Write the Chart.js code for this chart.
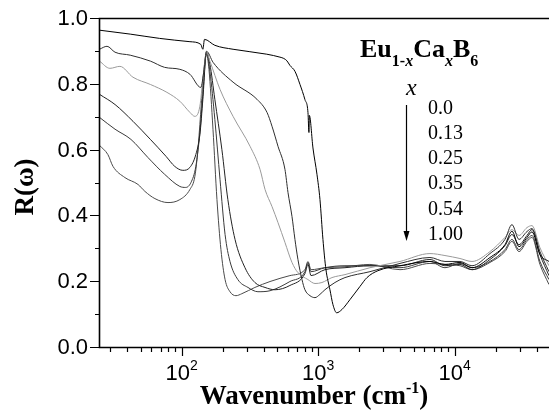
<!DOCTYPE html>
<html>
<head>
<meta charset="UTF-8">
<title>Eu1-xCaxB6 reflectivity</title>
<script src="https://cdn.jsdelivr.net/npm/chart.js"></script>
<style>
  html, body { margin: 0; padding: 0; background: #fff; }
</style>
</head>
<body>
<canvas id="chart" width="549" height="411"></canvas>
<script>
// Ca content x in Eu(1-x)Ca(x)B6, top to bottom in the legend
const compositions = ["0.0", "0.13", "0.25", "0.35", "0.54", "1.00"];
const lineColors = ["#000000", "#2e2e2e", "#9a9a9a", "#222222", "#3a3a3a", "#4a4a4a"];

// reflectivity spectra, [wavenumber (cm-1), R]
const r000 = [[25,0.963],[42,0.951],[69,0.938],[115,0.928],[138,0.920],[143,0.905],[147,0.935],[175,0.917],
  [238,0.905],[420,0.890],[525,0.881],[560,0.877],[590,0.870],[621,0.856],[676,0.838],[736,0.798],[800,0.752],
  [842,0.713],[856,0.652],[862,0.704],[916,0.605],[980,0.525],[1031,0.448],[1084,0.327],[1140,0.236],
  [1220,0.174],[1283,0.129],[1366,0.104],[1494,0.114],[1710,0.144],[2024,0.184],[2278,0.211],[2742,0.232],
  [3976,0.247],[6592,0.260],[8489,0.251],[10935,0.257],[13390,0.241],[18140,0.272],[23360,0.311],
  [26290,0.352],[29590,0.305],[33860,0.333],[36840,0.350],[42150,0.281],[49070,0.260]];
const r013 = [[25,0.905],[28.4,0.914],[32.5,0.896],[42,0.887],[59,0.869],[75,0.850],[97,0.844],[115,0.829],
  [138,0.789],[146,0.844],[152,0.899],[170,0.865],[238,0.805],[356,0.753],[422,0.713],[459,0.671],[508,0.610],
  [571,0.540],[601,0.470],[643,0.397],[676,0.327],[711,0.266],[761,0.205],[800,0.174],[871,0.156],[948,0.150],
  [1031,0.160],[1121,0.174],[1327,0.196],[1572,0.211],[2396,0.229],[3976,0.254],[6592,0.272],[8489,0.260],
  [10935,0.260],[13390,0.247],[18140,0.284],[23360,0.327],[26290,0.372],[29590,0.327],[33860,0.351],
  [36840,0.360],[42150,0.290],[49070,0.229]];
const r025 = [[25,0.869],[29.8,0.847],[35.3,0.853],[44,0.820],[59,0.798],[78,0.774],[97,0.747],[115,0.713],
  [125,0.701],[136,0.732],[143,0.814],[152,0.896],[161,0.869],[191,0.783],[238,0.701],[317,0.610],[375,0.540],
  [408,0.479],[459,0.427],[508,0.378],[571,0.318],[643,0.257],[711,0.226],[842,0.205],[948,0.193],[1066,0.196],
  [1262,0.211],[1572,0.220],[2396,0.241],[3976,0.260],[6592,0.284],[8489,0.278],[10935,0.269],[13390,0.260],
  [18140,0.290],[23360,0.333],[26290,0.357],[29590,0.339],[33860,0.363],[36840,0.369],[42150,0.302],[49070,0.247]];
const r035 = [[25,0.768],[32.5,0.737],[44,0.686],[59,0.631],[77,0.579],[89,0.549],[102,0.537],[115,0.546],
  [127,0.585],[136,0.646],[143,0.753],[152,0.896],[161,0.860],[175,0.753],[197,0.601],[218,0.448],[246,0.327],
  [291,0.241],[344,0.196],[408,0.181],[483,0.174],[621,0.187],[800,0.223],[842,0.251],[886,0.217],[1121,0.235],
  [1572,0.241],[2396,0.247],[3976,0.247],[6592,0.266],[8489,0.247],[10935,0.251],[13390,0.235],[18140,0.266],
  [23360,0.308],[26290,0.342],[29590,0.311],[33860,0.339],[36840,0.357],[42150,0.281],[49070,0.217]];
const r054 = [[25,0.698],[32.5,0.662],[42.5,0.631],[56.6,0.576],[75,0.525],[97,0.488],[107,0.485],[117,0.500],
  [127,0.549],[136,0.652],[143,0.768],[152,0.893],[161,0.838],[175,0.692],[191,0.509],[208,0.342],[226,0.260],
  [258,0.205],[306,0.181],[362,0.168],[444,0.171],[621,0.199],[800,0.229],[842,0.257],[886,0.229],[1121,0.241],
  [1572,0.247],[2396,0.247],[3976,0.241],[6592,0.260],[8489,0.241],[10935,0.254],[13390,0.241],[18140,0.260],
  [23360,0.296],[26290,0.327],[29590,0.296],[33860,0.327],[36840,0.339],[42150,0.260],[49070,0.205]];
const r100 = [[25,0.613],[28.8,0.585],[31.4,0.549],[38.4,0.515],[47.9,0.494],[53.8,0.473],[63.7,0.451],
  [79.4,0.439],[97,0.448],[115,0.479],[125,0.519],[131.6,0.601],[138.5,0.723],[145.7,0.844],[152,0.890],
  [158.5,0.844],[169.6,0.662],[181.4,0.448],[194,0.296],[208,0.205],[226,0.168],[250,0.156],[276,0.162],
  [344,0.181],[444,0.199],[621,0.217],[800,0.235],[842,0.260],[886,0.235],[1121,0.241],[1572,0.244],
  [2396,0.251],[3976,0.235],[6592,0.254],[8489,0.251],[10935,0.247],[13390,0.235],[18140,0.257],
  [23360,0.290],[26290,0.321],[29590,0.290],[33860,0.321],[36840,0.333],[42150,0.251],[49070,0.190]];
const spectra = [r000, r013, r025, r035, r054, r100];

const yTicks = [0, 0.2, 0.4, 0.6, 0.8, 1.0];
const yMinor = [0.1, 0.3, 0.5, 0.7, 0.9];
const xTicks = [100, 1000, 10000];
const xExp = ["2", "3", "4"];

const serif = '"Liberation Serif", "Times New Roman", serif';
const sans = '"Liberation Sans", Arial, sans-serif';

// draws text pieces one after another: [text, font, dy]
function drawRun(ctx, parts, x, base) {
  parts.forEach(p => {
    ctx.font = p[1];
    ctx.fillText(p[0], x, base + (p[2] || 0));
    x += ctx.measureText(p[0]).width;
  });
  return x;
}
function runWidth(ctx, parts) {
  let w = 0;
  parts.forEach(p => { ctx.font = p[1]; w += ctx.measureText(p[0]).width; });
  return w;
}

const frame = {
  id: 'frame',
  afterDraw(chart) {
    const ctx = chart.ctx, a = chart.chartArea;
    const xs = chart.scales.x, ys = chart.scales.y;
    ctx.save();
    ctx.strokeStyle = '#000';
    ctx.fillStyle = '#000';
    ctx.lineWidth = 1.6;
    ctx.beginPath();
    ctx.moveTo(a.right, a.top + 0.5); ctx.lineTo(a.left + 0.5, a.top + 0.5);
    ctx.lineTo(a.left + 0.5, a.bottom + 0.5); ctx.lineTo(a.right, a.bottom + 0.5);
    ctx.stroke();

    // y ticks
    ctx.lineWidth = 1.2;
    ctx.beginPath();
    yTicks.forEach(v => {
      const py = Math.round(ys.getPixelForValue(v)) + 0.5;
      ctx.moveTo(a.left - 9, py); ctx.lineTo(a.left, py);
    });
    yMinor.forEach(v => {
      const py = Math.round(ys.getPixelForValue(v)) + 0.5;
      ctx.moveTo(a.left - 4, py); ctx.lineTo(a.left, py);
    });
    // x ticks, major and minor
    xTicks.forEach(v => {
      const px = Math.round(xs.getPixelForValue(v)) + 0.5;
      ctx.moveTo(px, a.bottom); ctx.lineTo(px, a.bottom + 9);
    });
    [10, 100, 1000, 10000].forEach(d => {
      for (let m = 2; m <= 9; m++) {
        const v = d * m;
        if (v < xs.min || v > xs.max) continue;
        const px = Math.round(xs.getPixelForValue(v)) + 0.5;
        ctx.moveTo(px, a.bottom); ctx.lineTo(px, a.bottom + 5);
      }
    });
    ctx.stroke();

    // tick labels
    ctx.font = '22px ' + sans;
    ctx.textAlign = 'right';
    ctx.textBaseline = 'middle';
    yTicks.forEach(v => ctx.fillText(v.toFixed(1), a.left - 11, ys.getPixelForValue(v) + 1));
    ctx.textAlign = 'left';
    ctx.textBaseline = 'alphabetic';
    xTicks.forEach((v, i) => {
      const parts = [["10", '22px ' + sans], [xExp[i], '14px ' + sans, -10]];
      const w = runWidth(ctx, parts);
      drawRun(ctx, parts, xs.getPixelForValue(v) - w / 2, 380);
    });

    // axis titles
    const tParts = [["Wavenumber (cm", 'bold 27px ' + serif], ["-1", 'bold 16px ' + serif, -11], [")", 'bold 27px ' + serif]];
    drawRun(ctx, tParts, 314 - runWidth(ctx, tParts) / 2, 404);
    ctx.save();
    ctx.translate(33, 187);
    ctx.rotate(-Math.PI / 2);
    ctx.font = 'bold 27px ' + serif;
    ctx.textAlign = 'center';
    ctx.fillText("R(\u03C9)", 0, 0);
    ctx.restore();

    // compound label
    ctx.textAlign = 'left';
    drawRun(ctx, [
      ["Eu", 'bold 26px ' + serif], ["1-", 'bold 16px ' + serif, 9], ["x", 'bold italic 16px ' + serif, 9],
      ["Ca", 'bold 26px ' + serif], ["x", 'bold italic 16px ' + serif, 9],
      ["B", 'bold 26px ' + serif], ["6", 'bold 16px ' + serif, 9]
    ], 360, 57);

    // x label, arrow and composition list
    ctx.font = 'italic 24px ' + serif;
    ctx.fillText("x", 406, 95);
    ctx.lineWidth = 1.2;
    ctx.beginPath();
    ctx.moveTo(406.5, 105); ctx.lineTo(406.5, 232);
    ctx.stroke();
    ctx.beginPath();
    ctx.moveTo(403.5, 231); ctx.lineTo(409.5, 231); ctx.lineTo(406.5, 241); ctx.closePath();
    ctx.fill();
    ctx.font = '20px ' + serif;
    compositions.forEach((c, i) => ctx.fillText(c, 428, 113.5 + i * 25.3));
    ctx.restore();
  }
};

new Chart(document.getElementById('chart'), {
  type: 'line',
  data: {
    datasets: spectra.map((s, i) => ({
      label: compositions[i],
      data: s.map(p => ({ x: p[0], y: p[1] })),
      borderColor: lineColors[i],
      borderWidth: 1,
      pointRadius: 0,
      cubicInterpolationMode: 'monotone',
      fill: false
    }))
  },
  options: {
    responsive: false,
    animation: false,
    layout: { padding: { left: 99, top: 18, right: 0, bottom: 64 } },
    plugins: { legend: { display: false }, tooltip: { enabled: false } },
    scales: {
      x: { type: 'logarithmic', min: 24.8, max: 49100, display: false },
      y: { type: 'linear', min: 0, max: 1, display: false }
    }
  },
  plugins: [frame]
});
</script>
</body>
</html>
